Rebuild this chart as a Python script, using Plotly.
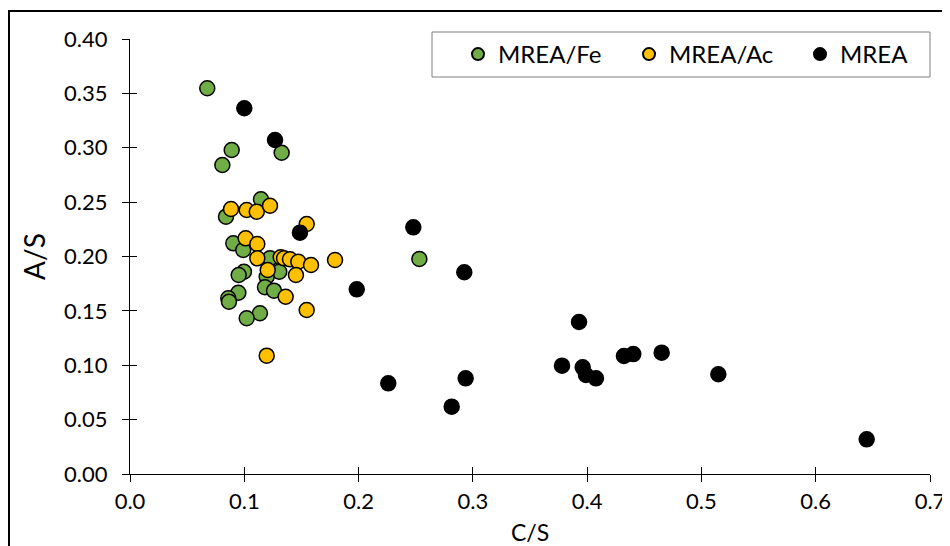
import plotly.graph_objects as go

fe_x = [0.0676, 0.0890, 0.0808, 0.1327, 0.1146, 0.0840, 0.0904, 0.0991, 0.1225, 0.1306,
        0.1196, 0.0997, 0.0951, 0.1181, 0.1260, 0.0948, 0.0860, 0.0866, 0.1137, 0.1021, 0.2532]
fe_y = [0.3547, 0.2979, 0.2841, 0.2954, 0.2526, 0.2366, 0.2121, 0.2060, 0.1983, 0.1860,
        0.1814, 0.1860, 0.1830, 0.1717, 0.1686, 0.1667, 0.1616, 0.1584, 0.1478, 0.1432, 0.1977]

ac_x = [0.0884, 0.1021, 0.1109, 0.1225, 0.1546, 0.1012, 0.1114, 0.1114, 0.1319, 0.1348,
        0.1400, 0.1473, 0.1584, 0.1794, 0.1205, 0.1452, 0.1362, 0.1546, 0.1196]
ac_y = [0.2437, 0.2428, 0.2412, 0.2467, 0.2299, 0.2167, 0.2115, 0.1983, 0.1993, 0.1983,
        0.1974, 0.1952, 0.1922, 0.1968, 0.1876, 0.1830, 0.1630, 0.1508, 0.1088]

mrea_x = [0.1000, 0.1269, 0.1487, 0.1984, 0.2479, 0.2925, 0.2260, 0.2937, 0.2815, 0.3929,
          0.3780, 0.3961, 0.3990, 0.4077, 0.4322, 0.4404, 0.4652, 0.5148, 0.6446]
mrea_y = [0.3363, 0.3071, 0.2219, 0.1698, 0.2268, 0.1855, 0.0834, 0.0880, 0.0619, 0.1398,
          0.0996, 0.0981, 0.0910, 0.0880, 0.1085, 0.1103, 0.1116, 0.0917, 0.0319]

x_ticks = [0.0, 0.1, 0.2, 0.3, 0.4, 0.5, 0.6, 0.7]
x_labels = ["0.0", "0.1", "0.2", "0.3", "0.4", "0.5", "0.6", "0.7"]
y_ticks = [0.0, 0.05, 0.10, 0.15, 0.20, 0.25, 0.30, 0.35, 0.40]
y_labels = ["0.00", "0.05", "0.10", "0.15", "0.20", "0.25", "0.30", "0.35", "0.40"]

FONT = "Lato"
OFF = 8  # page body margin
W, H = 950 - OFF, 546 - OFF
L, R, T, B = 130 - OFF, 20, 39 - OFF, 72
pw, ph = W - L - R, H - T - B

def px_x(p):  # page pixel -> paper x
    return (p - OFF - L) / pw

def px_y(p):  # page pixel -> paper y
    return (H - B - (p - OFF)) / ph

mk = dict(size=15, line=dict(color="#000000", width=1.5))

fig = go.Figure()
fig.add_trace(go.Scatter(x=fe_x, y=fe_y, mode="markers", name="MREA/Fe",
                         marker=dict(color="#70AD47", **mk)))
fig.add_trace(go.Scatter(x=ac_x, y=ac_y, mode="markers", name="MREA/Ac",
                         marker=dict(color="#FFC000", **mk)))
fig.add_trace(go.Scatter(x=mrea_x, y=mrea_y, mode="markers", name="MREA",
                         marker=dict(color="#000000", **mk)))
fig.add_trace(go.Scatter(x=[], y=[], xaxis="x2", yaxis="y2", showlegend=False,
                         hoverinfo="skip"))

axis_common = dict(showgrid=False, zeroline=False, showline=True, linecolor="#000000",
                   linewidth=1, ticks="outside", ticklen=7, tickcolor="#000000",
                   automargin=False,
                   tickfont=dict(family=FONT, size=22, color="#000000"))

bx0, by0, bx1, by1 = px_x(9), px_y(600), px_x(1000), px_y(11)
border_path = f"M {bx0},{by0} L {bx0},{by1} L {bx1},{by1}"

fig.update_layout(
    width=W, height=H,
    margin=dict(l=L, r=R, t=T, b=B, autoexpand=False),
    paper_bgcolor="white", plot_bgcolor="white",
    font=dict(family=FONT, color="#000000"),
    xaxis=dict(range=[0, 0.7], tickvals=x_ticks, ticktext=x_labels,
               ticklabelstandoff=1,
               title=dict(text="C/S", font=dict(family=FONT, size=23), standoff=11),
               **axis_common),
    yaxis=dict(range=[0, 0.4], tickvals=y_ticks, ticktext=y_labels,
               ticklabelstandoff=10,
               title=dict(text="A/S", font=dict(family=FONT, size=28), standoff=10),
               **axis_common),
    xaxis2=dict(range=[0, 0.7], overlaying="x", anchor="y2", tickvals=x_ticks,
                showticklabels=False, ticks="inside", ticklen=7, tickcolor="#000000",
                showgrid=False, zeroline=False, showline=False, automargin=False),
    yaxis2=dict(range=[0, 0.4], overlaying="y", anchor="x2", tickvals=y_ticks,
                showticklabels=False, ticks="inside", ticklen=7, tickcolor="#000000",
                showgrid=False, zeroline=False, showline=False, automargin=False),
    legend=dict(orientation="h", x=px_x(458), y=px_y(32), xanchor="left", yanchor="top",
                borderwidth=0, bgcolor="rgba(0,0,0,0)",
                font=dict(family=FONT, size=24, color="#000000"),
                entrywidth=126, entrywidthmode="pixels", itemsizing="constant"),
    shapes=[
        dict(type="path", xref="paper", yref="paper", path=border_path,
             line=dict(color="#000000", width=2), layer="above"),
        dict(type="rect", xref="paper", yref="paper",
             x0=px_x(432), x1=px_x(930), y0=px_y(77), y1=px_y(32),
             line=dict(color="#7F7F7F", width=1), fillcolor="white",
             layer="below"),
    ],
)

fig.write_html("out.html")
